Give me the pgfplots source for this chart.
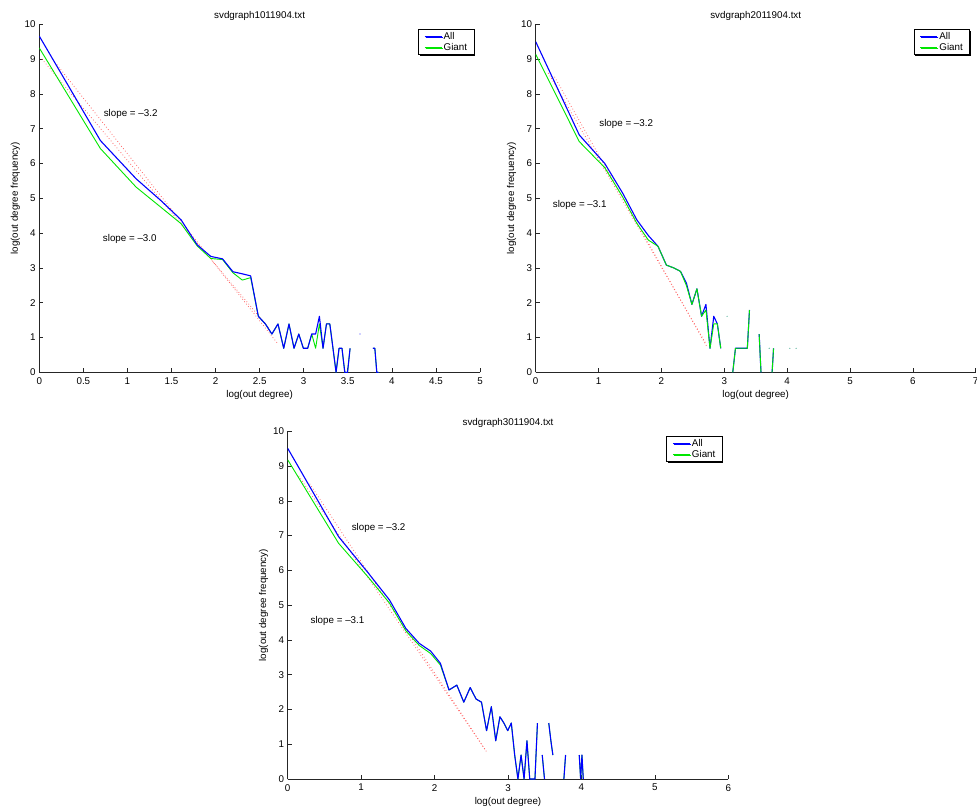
\documentclass[border=0pt]{standalone}
\usepackage{fontspec}
\setmainfont{Liberation Sans}
\usepackage{pgfplots}
\pgfplotsset{compat=1.18}
\usetikzlibrary{shadows}
\definecolor{mblue}{RGB}{0,0,255}
\definecolor{mgreen}{RGB}{0,230,0}
\definecolor{mred}{RGB}{255,90,90}
\pgfplotsset{
  mstyle/.style={
    scale only axis, anchor=south west, height=348pt,
    axis x line=bottom, axis y line=left,
    axis line style={-, line width=0.8pt, black!85},
    xmin=0, ymin=0, ymax=10, ytick={0,1,...,10},
    tick align=inside, major tick length=4pt,
    every tick/.style={black!85, line width=0.6pt},
    /pgf/number format/assume math mode=true,
    xticklabel style={anchor=north, inner sep=0pt, yshift=-5pt},
    yticklabel style={anchor=east, inner sep=0pt, xshift=-3.5pt},
    title style={at={(axis description cs:0.5,1)}, anchor=center, yshift=2pt},
    xlabel style={at={(axis description cs:0.5,0)}, anchor=center, yshift=-23pt},
    ylabel style={at={([xshift=-24pt]axis description cs:0,0.5)}, anchor=center},
    xlabel={log(out degree)}, ylabel={log(out degree frequency)},
    unbounded coords=jump,
    legend style={at={(axis description cs:1,1)}, anchor=north east, xshift=-5.5pt, yshift=-5pt,
      draw=black, line width=0.8pt, fill=white, inner xsep=5.5pt, inner ysep=1.2pt, row sep=0pt,
      drop shadow={shadow xshift=1pt, shadow yshift=-1pt, fill=black, opacity=1},
      nodes={inner sep=1.5pt, text height=6.8pt, text depth=1.5pt}},
    legend cell align=left,
  },
  allp/.style={color=mblue, line width=1.1pt, line join=round},
  giantp/.style={color=mgreen, line width=0.9pt, line join=round},
  fitp/.style={color=mred, line width=0.75pt, dash pattern=on 0.75pt off 2.3pt},
  dotp/.style={only marks, mark=*, mark size=0.35pt},
}
\begin{document}
\begin{tikzpicture}[font=\fontsize{9.8}{11.8}\selectfont]
\path[use as bounding box] (0,0) rectangle (977pt,-811pt);

% ---------------- Panel 1
\begin{axis}[mstyle, at={(39.3pt,-372.3pt)}, width=440.7pt, xmax=5,
  xtick={0,0.5,1,1.5,2,2.5,3,3.5,4,4.5,5},
  xticklabels={0,0.5,1,1.5,2,2.5,3,3.5,4,4.5,5},
  title={svdgraph1011904.txt}, reverse legend]
\addplot[fitp, forget plot] coordinates {(0.2,8.84) (2.7,0.84)};
\addplot[fitp, forget plot] coordinates {(0.03,9.0) (2.6,1.29)};
\addplot[giantp] coordinates {(0,9.32)(0.693,6.43)(1.099,5.32)(1.386,4.73)(1.609,4.27)(1.792,3.63)(1.946,3.27)(2.079,3.24)(2.197,2.86)(2.303,2.65)(2.398,2.72)(2.485,1.61)(2.565,1.39)(2.639,1.10)(2.708,1.39)(2.773,0.69)(2.833,1.39)(2.890,0.69)(2.944,1.10)(2.996,0.69)(3.045,0.69)(3.091,1.10)(3.135,0.69)(3.178,1.39)(3.219,0.69)(3.258,1.39)(3.296,1.39)(3.332,0.69)(3.367,0)(3.401,0.69)(3.434,0.69)(3.466,0)(3.497,0)(3.526,0.69)(3.555,nan)(3.761,nan)(3.784,0.69)(3.807,0.69)(3.829,0)(3.85,0)};
\addlegendentry{Giant}
\addplot[allp] coordinates {(0,9.66)(0.693,6.66)(1.099,5.56)(1.386,4.92)(1.609,4.38)(1.792,3.66)(1.946,3.33)(2.079,3.26)(2.197,2.89)(2.303,2.83)(2.398,2.77)(2.485,1.61)(2.565,1.39)(2.639,1.10)(2.708,1.39)(2.773,0.69)(2.833,1.39)(2.890,0.69)(2.944,1.10)(2.996,0.69)(3.045,0.69)(3.091,1.10)(3.135,1.10)(3.178,1.61)(3.219,0.69)(3.258,1.39)(3.296,1.39)(3.332,0.69)(3.367,0)(3.401,0.69)(3.434,0.69)(3.466,0)(3.497,0)(3.526,0.69)(3.555,nan)(3.761,nan)(3.784,0.69)(3.807,0.69)(3.829,0)(3.85,0)};
\addlegendentry{All}
\addplot[dotp, color=mblue!60, forget plot] coordinates {(3.638,1.10)};
\node[anchor=west, inner sep=0pt] at (axis cs:0.73,7.42) {slope = –3.2};
\node[anchor=west, inner sep=0pt] at (axis cs:0.72,3.84) {slope = –3.0};
\end{axis}

% ---------------- Panel 2
\begin{axis}[mstyle, at={(535.7pt,-372.3pt)}, width=440pt, xmax=7,
  xtick={0,1,...,7}, title={svdgraph2011904.txt}]
\addplot[fitp, forget plot] coordinates {(0.2,8.60) (2.7,0.85)};
\addplot[fitp, forget plot] coordinates {(0.3,8.49) (2.72,0.75)};
\addplot[allp] coordinates {(0,9.50)(0.693,6.82)(1.099,6.00)(1.386,5.14)(1.609,4.38)(1.792,3.93)(1.946,3.62)(2.079,3.08)(2.197,3.00)(2.303,2.90)(2.398,2.56)(2.485,1.95)(2.565,2.40)(2.639,1.61)(2.708,1.95)(2.773,0.69)(2.833,1.61)(2.890,1.39)(2.944,0.69)(2.996,nan)(3.135,0)(3.178,0.69)(3.219,0.69)(3.258,0.69)(3.296,0.69)(3.332,0.69)(3.367,0.69)(3.401,1.79)(3.434,nan)(3.555,1.10)(3.584,0)(3.611,nan)(3.761,0)(3.784,0.69)(3.807,nan)};
\addlegendentry{All}
\addplot[giantp] coordinates {(0,9.14)(0.693,6.63)(1.099,5.88)(1.386,5.03)(1.609,4.28)(1.792,3.80)(1.946,3.62)(2.079,3.08)(2.197,3.00)(2.303,2.90)(2.398,2.49)(2.485,1.95)(2.565,2.40)(2.639,1.61)(2.708,1.79)(2.773,0.69)(2.833,1.39)(2.890,1.39)(2.944,0.69)(2.996,nan)(3.135,0)(3.178,0.69)(3.219,0.69)(3.258,0.69)(3.296,0.69)(3.332,0.69)(3.367,0.69)(3.401,1.79)(3.434,nan)(3.555,1.10)(3.584,0)(3.611,nan)(3.761,0)(3.784,0.69)(3.807,nan)};
\addlegendentry{Giant}
\addplot[dotp, color=mgreen!60!mblue!60, forget plot] coordinates {(3.045,1.61)(3.714,0.69)(4.043,0.69)(4.143,0.69)};
\node[anchor=west, inner sep=0pt] at (axis cs:1.01,7.14) {slope = –3.2};
\node[anchor=west, inner sep=0pt] at (axis cs:0.27,4.82) {slope = –3.1};
\end{axis}

% ---------------- Panel 3
\begin{axis}[mstyle, at={(287.7pt,-779pt)}, width=440.6pt, height=347.7pt, xmax=6,
  xtick={0,1,...,6}, title={svdgraph3011904.txt}, reverse legend]
\addplot[fitp, forget plot] coordinates {(0.15,8.715) (2.72,0.748)};
\addplot[fitp, forget plot] coordinates {(0.3,8.49) (2.7,0.81)};
\addplot[giantp] coordinates {(0,9.18)(0.693,6.78)(1.099,5.80)(1.386,5.06)(1.609,4.26)(1.792,3.84)(1.946,3.61)(2.079,3.28)(2.197,2.56)(2.303,2.70)(2.398,2.21)(2.485,2.63)(2.565,2.30)(2.639,2.21)(2.708,1.39)(2.773,2.08)(2.833,1.10)(2.890,1.79)(2.944,1.61)(2.996,1.39)(3.045,1.61)(3.091,0.69)(3.135,0)(3.178,0.69)(3.219,0)(3.258,1.10)(3.296,0)(3.332,0)(3.367,0)(3.401,1.61)(3.434,nan)(3.466,0.69)(3.497,0)(3.526,nan)(3.555,1.61)(3.584,1.10)(3.611,0.69)(3.638,nan)(3.761,0)(3.784,0.69)(3.807,nan)(3.970,0.69)(3.989,0)(4.007,0.69)(4.025,0)(4.043,nan)};
\addlegendentry{Giant}
\addplot[allp] coordinates {(0,9.51)(0.693,6.97)(1.099,5.92)(1.386,5.15)(1.609,4.33)(1.792,3.90)(1.946,3.68)(2.079,3.33)(2.197,2.56)(2.303,2.70)(2.398,2.21)(2.485,2.63)(2.565,2.30)(2.639,2.21)(2.708,1.39)(2.773,2.08)(2.833,1.10)(2.890,1.79)(2.944,1.61)(2.996,1.39)(3.045,1.61)(3.091,0.69)(3.135,0)(3.178,0.69)(3.219,0)(3.258,1.10)(3.296,0)(3.332,0)(3.367,0)(3.401,1.61)(3.434,nan)(3.466,0.69)(3.497,0)(3.526,nan)(3.555,1.61)(3.584,1.10)(3.611,0.69)(3.638,nan)(3.761,0)(3.784,0.69)(3.807,nan)(3.970,0.69)(3.989,0)(4.007,0.69)(4.025,0)(4.043,nan)};
\addlegendentry{All}
\node[anchor=west, inner sep=0pt] at (axis cs:0.87,7.22) {slope = –3.2};
\node[anchor=west, inner sep=0pt] at (axis cs:0.31,4.54) {slope = –3.1};
\end{axis}
\end{tikzpicture}
\end{document}
